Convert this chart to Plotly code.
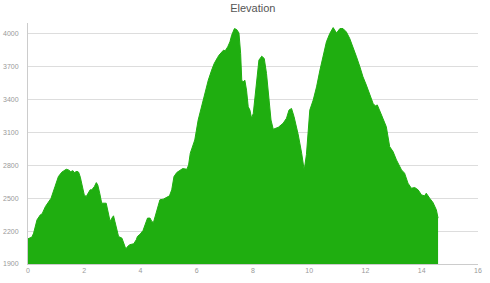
import plotly.graph_objects as go

distance = [0.00, 0.14, 0.20, 0.32, 0.44, 0.50, 0.62, 0.77, 0.82, 0.96, 1.08, 1.20, 1.36, 1.44,
            1.52, 1.60, 1.64, 1.74, 1.80, 1.86, 1.92, 2.00, 2.07, 2.15, 2.21, 2.27, 2.36, 2.43,
            2.48, 2.55, 2.62, 2.78, 2.82, 2.92, 2.98, 3.04, 3.09, 3.16, 3.22, 3.34, 3.42, 3.48,
            3.54, 3.62, 3.76, 3.85, 3.89, 3.99, 4.09, 4.17, 4.25, 4.34, 4.40, 4.46, 4.55, 4.63,
            4.69, 4.81, 4.93, 5.03, 5.11, 5.19, 5.29, 5.41, 5.50, 5.65, 5.71, 5.77, 5.83, 5.93,
            6.05, 6.17, 6.29, 6.41, 6.53, 6.62, 6.74, 6.79, 6.95, 7.01, 7.10, 7.18, 7.24, 7.34,
            7.42, 7.50, 7.56, 7.60, 7.65, 7.71, 7.77, 7.83, 7.89, 7.95, 8.01, 8.07, 8.13, 8.21,
            8.31, 8.40, 8.48, 8.54, 8.64, 8.72, 8.90, 9.07, 9.19, 9.28, 9.37, 9.46, 9.61, 9.73,
            9.82, 9.90, 9.96, 10.02, 10.14, 10.26, 10.38, 10.49, 10.61, 10.73, 10.85, 10.97,
            11.09, 11.20, 11.32, 11.44, 11.56, 11.68, 11.80, 11.91, 12.03, 12.15, 12.27, 12.35,
            12.42, 12.57, 12.74, 12.86, 12.98, 13.10, 13.28, 13.39, 13.51, 13.63, 13.75, 13.87,
            13.99, 14.10, 14.16, 14.28, 14.40, 14.52, 14.58]

elevation = [2130, 2146, 2182, 2303, 2349, 2357, 2425, 2486, 2500, 2607, 2698, 2738, 2765, 2759,
             2743, 2752, 2734, 2746, 2738, 2693, 2607, 2531, 2516, 2546, 2577, 2577, 2607, 2643,
             2622, 2546, 2455, 2455, 2410, 2288, 2318, 2340, 2288, 2219, 2151, 2136, 2076, 2036,
             2060, 2076, 2085, 2121, 2151, 2173, 2206, 2270, 2319, 2319, 2289, 2279, 2364, 2425,
             2486, 2492, 2510, 2522, 2577, 2698, 2735, 2753, 2771, 2765, 2804, 2911, 2956, 3032,
             3214, 3335, 3457, 3578, 3670, 3730, 3785, 3806, 3852, 3846, 3882, 3928, 3988, 4049,
             4040, 4009, 3822, 3578, 3563, 3578, 3487, 3335, 3305, 3230, 3275, 3426, 3608, 3761,
             3797, 3776, 3639, 3457, 3214, 3130, 3148, 3184, 3230, 3305, 3320, 3245, 3078, 2911,
             2756, 2900, 3123, 3305, 3396, 3517, 3670, 3791, 3928, 4004, 4058, 4009,
             4049, 4049, 4018, 3958, 3882, 3791, 3700, 3609, 3533, 3442, 3366, 3343,
             3352, 3260, 3153, 2971, 2926, 2850, 2759, 2729, 2638, 2592, 2598, 2577,
             2531, 2522, 2546, 2501, 2461, 2394, 2319]

x_ticks = [0, 2, 4, 6, 8, 10, 12, 14, 16]
y_ticks = [1900, 2200, 2500, 2800, 3100, 3400, 3700, 4000]

green = "#1fae10"

fig = go.Figure(go.Scatter(
    x=distance, y=elevation, mode="lines", fill="tozeroy",
    line=dict(color=green, width=1), fillcolor=green, hoverinfo="x+y",
))

fig.update_layout(
    width=490, height=283,
    margin=dict(l=28, r=12, t=23, b=19),
    paper_bgcolor="white", plot_bgcolor="white",
    showlegend=False,
    font=dict(family="Liberation Sans, Arial, sans-serif", color="#999999", size=7),
    title=dict(text="Elevation", x=0.516, xanchor="center", y=0.972, yanchor="middle",
               font=dict(size=11, color="#555555")),
    xaxis=dict(range=[0, 16], tickvals=x_ticks, showgrid=False, zeroline=False,
               showline=True, linecolor="#cccccc", linewidth=1, automargin=False,
               ticks="", tickfont=dict(size=7, color="#999999")),
    yaxis=dict(range=[1900, 4100], tickvals=y_ticks, showgrid=True, gridcolor="#dddddd",
               gridwidth=1, zeroline=False, showline=True, linecolor="#cccccc", linewidth=1,
               automargin=False, ticks="", ticklabelstandoff=7,
               tickfont=dict(size=7, color="#999999")),
)

fig.write_html("out.html")
